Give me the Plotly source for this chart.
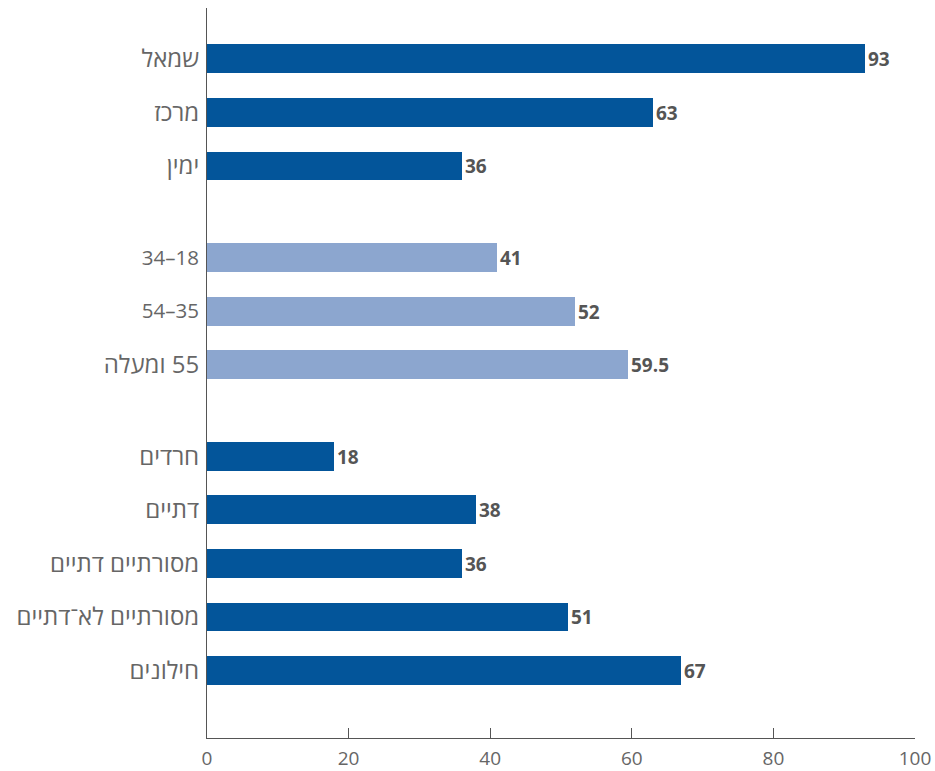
import re
import plotly.graph_objects as go

# Data (top to bottom), grouped
group_politics = ["שמאל", "מרכז", "ימין"]
values_politics = [93, 63, 36]
group_age = ["18–34", "35–54", "55 ומעלה"]
values_age = [41, 52, 59.5]
group_religion = ["חרדים", "דתיים", "מסורתיים דתיים", "מסורתיים לא־דתיים", "חילונים"]
values_religion = [18, 38, 36, 51, 67]
x_ticks = [0, 20, 40, 60, 80, 100]

DARK = "#03559A"
LIGHT = "#8CA6CF"
RLM = "\u200f"  # right-to-left ordering like the Hebrew original

groups = [
    (group_politics, values_politics, DARK),
    (group_age, values_age, LIGHT),
    (group_religion, values_religion, DARK),
]

GAP = 0.71  # extra spacing between groups (in bar slots)
fig = go.Figure()
heb_vals, heb_text, num_vals, num_text = [], [], [], []
pos = 0.0
for gi, (cats, vals, col) in enumerate(groups):
    ys = []
    for c in cats:
        ys.append(pos)
        if re.search(r"[\u0590-\u05FF]", c):
            heb_vals.append(pos)
            heb_text.append(RLM + c)
        else:
            num_vals.append(pos)
            num_text.append(RLM + c)
        pos += 1
    pos += GAP
    fig.add_trace(go.Bar(
        x=vals, y=ys, orientation="h",
        marker=dict(color=col, line=dict(width=0)),
        width=0.54,
        text=[f"{v:g}" for v in vals],
        textposition="outside",
        constraintext="none",
        cliponaxis=False,
        textfont=dict(family="Open Sans", size=19, color="#555555", weight="bold"),
        hoverinfo="skip",
        showlegend=False,
    ))

last = pos - GAP - 1
yrange = [last + 1.26, -0.95]
fig.update_layout(
    width=935, height=771,
    margin=dict(l=207, r=20, t=8, b=33, autoexpand=False),
    paper_bgcolor="white", plot_bgcolor="white",
    font=dict(family="Open Sans", color="#666666"),
    bargap=0,
)
fig.update_xaxes(
    range=[0, 100], tickvals=x_ticks, ticktext=[str(t) for t in x_ticks],
    showgrid=False, zeroline=False,
    showline=True, linecolor="#555555", linewidth=1,
    ticks="inside", ticklen=10, tickcolor="#555555",
    ticklabelstandoff=3,
    tickfont=dict(size=19, color="#666666"),
    automargin=False,
    fixedrange=True,
)
fig.update_layout(
    yaxis=dict(
        range=yrange, tickvals=heb_vals, ticktext=heb_text,
        showgrid=False, zeroline=False,
        showline=True, linecolor="#555555", linewidth=1,
        ticks="", ticklabelstandoff=2,
        tickfont=dict(size=24, color="#666666"),
        automargin=False,
        fixedrange=True,
    ),
    yaxis2=dict(
        range=yrange, overlaying="y", side="left", anchor="x",
        tickvals=num_vals, ticktext=num_text,
        showgrid=False, zeroline=False, showline=False,
        ticks="", ticklabelstandoff=7,
        tickfont=dict(size=20.5, color="#666666"),
        automargin=False,
        fixedrange=True,
    ),
)
# invisible helper so the second axis is drawn
fig.add_trace(go.Scatter(x=[None], y=[None], yaxis="y2", showlegend=False, hoverinfo="skip"))
fig.write_html(
    "out.html",
    config={"displayModeBar": False},
    post_script="document.body.style.margin='0';document.body.style.overflow='hidden';",
)
